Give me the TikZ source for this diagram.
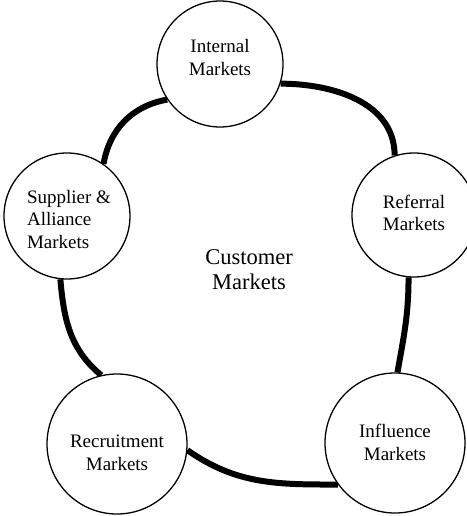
\documentclass[tikz,border=0pt]{standalone}
\usepackage{fontspec}
\setmainfont{Liberation Serif}
\usetikzlibrary{backgrounds}
\newcommand\mylines[3]{\raisebox{#1}[0pt][0pt]{\begin{tabular}[c]{@{}#2@{}}#3\end{tabular}}}
\tikzset{
  market/.style={circle, draw=black, line width=1.3pt, fill=white, inner sep=0pt,
    font=\fontsize{19}{22.5}\selectfont},
  conn/.style={line width=6pt, black},
}
\begin{document}
\begin{tikzpicture}[x=1pt,y=1pt]
\useasboundingbox (0,0) rectangle (466,-516);
\node[market, minimum size=126pt] (int) at (220,-64) {\mylines{0pt}{c}{Internal\\Markets}};
\node[market, minimum size=126pt] (sup) at (67,-216) {\hspace{4pt}\mylines{-9.5pt}{l}{Supplier \&\\Alliance\\Markets}};
\node[market, minimum size=124pt] (ref) at (414,-215) {\mylines{-4.25pt}{c}{Referral\\Markets}};
\node[market, minimum size=140pt] (rec) at (117,-444) {\mylines{-14.75pt}{c}{Recruitment\\Markets}};
\node[market, minimum size=140pt] (inf) at (395,-443) {\mylines{-5.75pt}{c}{Influence\\Markets}};
\node[align=center, font=\fontsize{22.5}{25}\selectfont] (cust) at (249,-270) {Customer\\Markets};
\begin{scope}[on background layer]
\draw[conn] (sup.55) to[out=80,in=190] (int.214);
\draw[conn] (int.-18) to[out=0,in=90] (ref.108);
\draw[conn] (ref.265) to[out=-90,in=80] (inf.88);
\draw[conn] (inf.216) to[out=180,in=-35] (rec.-5);
\draw[conn] (rec.103) to[out=140,in=-85] (sup.264);
\end{scope}
\end{tikzpicture}
\end{document}
